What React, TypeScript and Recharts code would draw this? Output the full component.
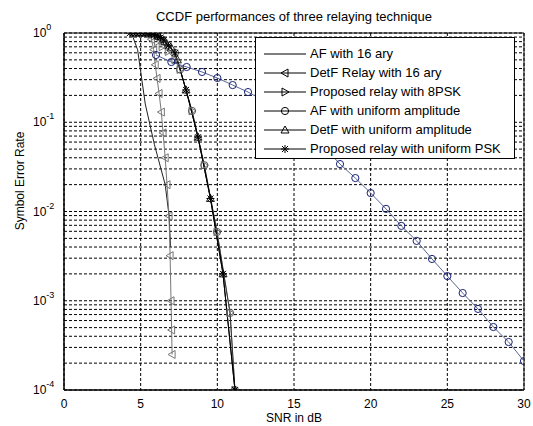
import React from "react";
import { LineChart, Line, XAxis, YAxis, CartesianGrid, ReferenceArea } from "recharts";

const FONT = "'Liberation Sans', Arial, Helvetica, sans-serif";

// AF with 16 ary (plain line)
const af16Snr = [4.4, 4.8, 5.3, 5.9, 6.6, 6.85, 6.95];
const af16Ser = [1, 0.65, 0.16, 0.056, 0.02, 0.009, 0.004];

// DetF Relay with 16 ary (left triangles)
const detf16Snr = [5.5, 5.7, 5.85, 5.95, 6.07, 6.2, 6.35, 6.46, 6.6, 6.72, 6.85, 6.92, 6.98, 7.02, 7.05];
const detf16Ser = [1, 0.85, 0.65, 0.44, 0.31, 0.21, 0.13, 0.076, 0.04, 0.02, 0.0089, 0.0032, 0.001, 0.00047, 0.00025];

// Proposed relay with 8PSK (right triangles)
const p8Snr = [5.6, 5.9, 6.1, 6.4, 6.8, 7.24, 7.57, 8.35, 9.15, 9.98, 10.83, 11.15];
const p8Ser = [1, 0.92, 0.8, 0.7, 0.62, 0.5, 0.39, 0.134, 0.033, 0.0059, 0.00073, 0.0001];

// AF with uniform amplitude (circles)
const afuSnr = [4.5, 5.0, 5.5, 6.0, 6.4, 6.8, 7.24, 7.57, 8.35, 9.15, 9.98, 10.83, 11.15];
const afuSer = [1, 1, 0.98, 0.93, 0.85, 0.72, 0.6, 0.39, 0.134, 0.033, 0.0059, 0.00073, 0.0001];

// DetF with uniform amplitude (up triangles)
const detfuSnr = [4.6, 5.0, 5.4, 5.8, 6.2, 6.6, 7.0, 7.4, 7.96, 8.74, 9.55, 10.37, 11.15];
const detfuSer = [1, 1, 1, 0.98, 0.92, 0.8, 0.68, 0.5, 0.23, 0.068, 0.014, 0.002, 0.0001];

// Proposed relay with uniform PSK (stars)
const puSnr = [4.3, 4.5, 4.7, 4.9, 5.1, 5.3, 5.5, 5.7, 5.9, 6.1, 6.3, 6.5, 6.8, 7.24, 7.96, 8.74, 9.55, 10.37, 11.15];
const puSer = [1, 1, 1, 1, 1, 1, 0.99, 0.98, 0.96, 0.93, 0.89, 0.83, 0.72, 0.6, 0.23, 0.068, 0.014, 0.002, 0.0001];

// blue curve (not in legend)
const blueSnr = [6, 7, 8, 9, 10, 11, 12, 13, 14, 15, 16, 17, 18, 19, 20, 21, 22, 23, 24, 25, 26, 27, 28, 29, 30];
const blueSer = [0.567, 0.473, 0.416, 0.366, 0.313, 0.261, 0.218, 0.175, 0.14, 0.105, 0.077, 0.052, 0.034, 0.0237, 0.0161, 0.0107, 0.0069, 0.00468, 0.00294, 0.00189, 0.00122, 0.00081, 0.000508, 0.000345, 0.000211];

const xTicks = [0, 5, 10, 15, 20, 25, 30];
const yTicks: number[] = [];
for (let e = -4; e < 0; e++) {
  for (let m = 1; m <= 9; m++) yTicks.push(Number((m * Math.pow(10, e)).toPrecision(3)));
}
yTicks.push(1);

const zip = (xs: number[], ys: number[]) => xs.map((x, i) => ({ x, y: ys[i] }));

const legendItems = [
  { label: "AF with 16 ary", marker: "none" },
  { label: "DetF Relay with 16 ary", marker: "left" },
  { label: "Proposed relay with 8PSK", marker: "right" },
  { label: "AF with uniform amplitude", marker: "circle" },
  { label: "DetF with uniform amplitude", marker: "up" },
  { label: "Proposed relay with uniform PSK", marker: "star" },
];

function Marker({ kind, cx, cy, color }: { kind: string; cx: number; cy: number; color: string }) {
  if (kind === "circle") return <circle cx={cx} cy={cy} r={3.6} fill="none" stroke={color} strokeWidth={1} />;
  if (kind === "left")
    return <polygon points={`${cx - 4},${cy} ${cx + 3},${cy - 4} ${cx + 3},${cy + 4}`} fill="none" stroke={color} />;
  if (kind === "right")
    return <polygon points={`${cx + 4},${cy} ${cx - 3},${cy - 4} ${cx - 3},${cy + 4}`} fill="none" stroke={color} />;
  if (kind === "up")
    return <polygon points={`${cx},${cy - 4} ${cx - 4},${cy + 3} ${cx + 4},${cy + 3}`} fill="none" stroke={color} />;
  if (kind === "star")
    return (
      <g stroke={color} strokeWidth={1}>
        <line x1={cx - 4} y1={cy} x2={cx + 4} y2={cy} />
        <line x1={cx} y1={cy - 4} x2={cx} y2={cy + 4} />
        <line x1={cx - 3} y1={cy - 3} x2={cx + 3} y2={cy + 3} />
        <line x1={cx - 3} y1={cy + 3} x2={cx + 3} y2={cy - 3} />
      </g>
    );
  return null;
}

const dotOf = (kind: string, color: string) => (p: any) =>
  <Marker key={`m-${kind}-${p.index}`} kind={kind} cx={p.cx} cy={p.cy} color={color} />;

function YTick(props: any) {
  const { x, y, payload } = props;
  const lg = Math.log10(payload.value);
  const e = Math.round(lg);
  if (Math.abs(lg - e) > 1e-6) return <g />;
  return (
    <text x={x - 23} y={y + 4} fontSize={12} fontFamily={FONT} fill="#000">
      10
      <tspan dy={-7} fontSize={9}>{e}</tspan>
    </text>
  );
}

function XTick(props: any) {
  const { x, y, payload } = props;
  return (
    <text x={x} y={y + 10} textAnchor="middle" fontSize={12} fontFamily={FONT} fill="#000">
      {payload.value}
    </text>
  );
}

function LegendSample({ kind }: { kind: string }) {
  return (
    <svg width={46} height={14} style={{ display: "block" }}>
      <line x1={2} y1={7} x2={44} y2={7} stroke="#000" />
      <Marker kind={kind} cx={23} cy={7} color="#000" />
    </svg>
  );
}

export default function App() {
  return (
    <div style={{ position: "fixed", left: 0, top: 0, width: 533, height: 426, background: "#fff", fontFamily: FONT }}>
      <div style={{ position: "absolute", left: 64, width: 460, top: 9, textAlign: "center", fontSize: 13 }}>
        CCDF performances of three relaying technique
      </div>
      <div
        style={{
          position: "absolute",
          left: 20,
          top: 181,
          transform: "translate(-50%, -50%) rotate(-90deg)",
          whiteSpace: "nowrap",
          fontSize: 12,
        }}
      >
        Symbol Error Rate
      </div>
      <LineChart width={533} height={426} margin={{ top: 33, right: 9, left: 10, bottom: 0 }}>
        <CartesianGrid stroke="#000" strokeDasharray="3 2" strokeWidth={1} />
        <XAxis
          dataKey="x"
          type="number"
          domain={[0, 30]}
          ticks={xTicks}
          tick={<XTick />}
          tickLine={false}
          axisLine={{ stroke: "#000" }}
          height={36}
          allowDataOverflow
          label={{ value: "SNR in dB", position: "insideBottom", offset: 4, fill: "#000", fontSize: 12, fontFamily: FONT }}
        />
        <YAxis
          dataKey="y"
          type="number"
          scale="log"
          domain={[1e-4, 1]}
          ticks={yTicks}
          tick={<YTick />}
          tickLine={false}
          axisLine={{ stroke: "#000" }}
          width={54}
          allowDataOverflow
          interval={0}
        />
        <ReferenceArea x1={0} x2={30} y1={1e-4} y2={1} fill="none" stroke="#000" strokeWidth={1} ifOverflow="visible" />
        <Line data={zip(af16Snr, af16Ser)} dataKey="y" stroke="#222" strokeWidth={1} dot={false} isAnimationActive={false} />
        <Line data={zip(detf16Snr, detf16Ser)} dataKey="y" stroke="#777" strokeWidth={1} dot={dotOf("left", "#777")} isAnimationActive={false} />
        <Line data={zip(p8Snr, p8Ser)} dataKey="y" stroke="#777" strokeWidth={1} dot={dotOf("right", "#777")} isAnimationActive={false} />
        <Line data={zip(afuSnr, afuSer)} dataKey="y" stroke="#333" strokeWidth={1} dot={dotOf("circle", "#555")} isAnimationActive={false} />
        <Line data={zip(detfuSnr, detfuSer)} dataKey="y" stroke="#000" strokeWidth={1} dot={dotOf("up", "#222")} isAnimationActive={false} />
        <Line data={zip(puSnr, puSer)} dataKey="y" stroke="#000" strokeWidth={1} dot={dotOf("star", "#000")} isAnimationActive={false} />
        <Line data={zip(blueSnr, blueSer)} dataKey="y" stroke="#5b6796" strokeWidth={1} dot={dotOf("circle", "#1a2377")} isAnimationActive={false} />
      </LineChart>
      <div
        style={{
          position: "absolute",
          left: 255,
          top: 37,
          width: 260,
          height: 122,
          border: "1px solid #000",
          background: "#fff",
          boxSizing: "border-box",
          padding: "6px 0 0 6px",
        }}
      >
        {legendItems.map((it) => (
          <div key={it.label} style={{ display: "flex", alignItems: "center", height: 19, fontSize: 13 }}>
            <LegendSample kind={it.marker} />
            <span style={{ marginLeft: 2, whiteSpace: "nowrap" }}>{it.label}</span>
          </div>
        ))}
      </div>
    </div>
  );
}
